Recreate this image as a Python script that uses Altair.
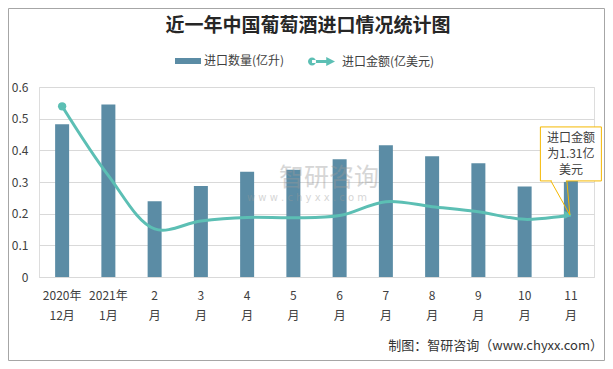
import altair as alt
import pandas as pd

# ---------------- data ----------------
months = ["2020年|12月", "2021年|1月", "2|月", "3|月", "4|月", "5|月",
          "6|月", "7|月", "8|月", "9|月", "10|月", "11|月"]
volume = [0.482, 0.545, 0.239, 0.287, 0.332, 0.339, 0.372, 0.416, 0.381, 0.359, 0.286, 0.31]
amount = [0.539, 0.32, 0.152, 0.177, 0.188, 0.187, 0.194, 0.238, 0.222, 0.206, 0.182, 0.196]
y_ticks = [0, 0.1, 0.2, 0.3, 0.4, 0.5, 0.6]
title_text = "近一年中国葡萄酒进口情况统计图"
vol_name = "进口数量(亿升)"
amt_name = "进口金额(亿美元)"
callout_lines = ["进口金额", "为1.31亿", "美元"]
source_text = "制图：智研咨询（www.chyxx.com）"
wm_name = "智研咨询"
wm_url = "w w w . c h y x x . c o m"

BAR = "#5b8ca5"
LINE = "#5cbfb4"
GOLD = "#f5b800"
TXT = "#404040"
GRID = "#d9d9d9"
FONT = "Noto Sans CJK SC"

df = pd.DataFrame({"month": months, "volume": volume, "amount": amount})
first = df.iloc[[0]]
last = df.iloc[[-1]]
one = pd.DataFrame({"k": [0]})

x_axis = alt.Axis(title=None, labelExpr="split(datum.label, '|')", labelAngle=0,
                  ticks=False, domainColor=GRID, labelFontSize=12, labelLineHeight=20,
                  labelPadding=13, labelColor=TXT, labelFont=FONT, grid=False)
xenc = alt.X("month:N", sort=months,
             scale=alt.Scale(domain=months, paddingInner=0, paddingOuter=0), axis=x_axis)
yscale = alt.Scale(domain=[0, 0.6], nice=False, zero=True)
y_axis = alt.Axis(title=None, values=y_ticks, format=".1~f", domain=False, ticks=False,
                  gridColor=GRID, labelFontSize=12, labelColor=TXT, labelFont=FONT,
                  labelPadding=11)

bar_sym = "M-1,-0.23H1V0.23H-1Z"
line_sym = ("M-1,0A0.3,0.3 0 1,0 -0.4,0A0.3,0.3 0 1,0 -1,0Z"
            "M-0.7,-0.11H0.45V0.11H-0.7Z"
            "M0.35,-0.33L1,0L0.35,0.33Z")

bars = alt.Chart(df).transform_calculate(s1=repr(vol_name)).mark_bar(width=14).encode(
    x=xenc,
    y=alt.Y("volume:Q", scale=yscale, axis=y_axis),
    color=alt.Color("s1:N", scale=alt.Scale(domain=[vol_name], range=[BAR]),
                    legend=alt.Legend(orient="none", legendX=136, legendY=-39, title=None,
                                      symbolType=bar_sym, symbolSize=676, symbolStrokeWidth=0,
                                      labelFontSize=12, labelFont=FONT, labelColor=TXT,
                                      labelOffset=3, padding=0)),
)

line = alt.Chart(df).transform_calculate(s2=repr(amt_name)).mark_line(
    interpolate="catmull-rom", strokeWidth=3).encode(
    x=xenc,
    y=alt.Y("amount:Q", scale=yscale, axis=y_axis),
    color=alt.Color("s2:N", scale=alt.Scale(domain=[amt_name], range=[LINE]),
                    legend=alt.Legend(orient="none", legendX=269, legendY=-39, title=None,
                                      symbolType=line_sym, symbolSize=729,
                                      symbolFillColor=LINE, symbolStrokeWidth=0,
                                      labelFontSize=12, labelFont=FONT, labelColor=TXT,
                                      labelOffset=7, padding=0)),
)

start_pt = alt.Chart(first).mark_point(shape="circle", filled=True, size=70, color=LINE, opacity=1).encode(
    x=xenc, y=alt.Y("amount:Q", scale=yscale, axis=y_axis))
end_pt = alt.Chart(last).mark_point(shape="triangle-right", filled=True, size=70, color=LINE,
                                    opacity=1, xOffset=-3).encode(
    x=xenc, y=alt.Y("amount:Q", scale=yscale, axis=y_axis))

# callout anchored to last amount point
box = alt.Chart(last).mark_bar(width=61, fill="white", stroke=GOLD, strokeWidth=1,
                               yOffset=-34, y2Offset=-88).encode(
    x=xenc, y=alt.Y("amount:Q", scale=yscale, axis=y_axis), y2="amount:Q")
ptr_left = alt.Chart(last).mark_rule(color=GOLD, strokeWidth=1, xOffset=-20, yOffset=-34,
                                     x2Offset=-1, y2Offset=0).encode(
    x=xenc, x2="month:N", y=alt.Y("amount:Q", scale=yscale, axis=y_axis), y2="amount:Q")
ptr_right = alt.Chart(last).mark_rule(color=GOLD, strokeWidth=1, xOffset=-4, yOffset=-34,
                                      x2Offset=-1, y2Offset=0).encode(
    x=xenc, x2="month:N", y=alt.Y("amount:Q", scale=yscale, axis=y_axis), y2="amount:Q")
ptr_cover = alt.Chart(last).mark_rule(color="white", strokeWidth=2, xOffset=-19, yOffset=-34,
                                      x2Offset=-5, y2Offset=-34).encode(
    x=xenc, x2="month:N", y=alt.Y("amount:Q", scale=yscale, axis=y_axis), y2="amount:Q")
call_txt = alt.Chart(last).mark_text(fontSize=12, font=FONT, color=TXT, lineHeight=16,
                                     baseline="middle", align="center", yOffset=-77).encode(
    x=xenc, y=alt.Y("amount:Q", scale=yscale, axis=y_axis), text=alt.value(callout_lines))

# decorations
border = alt.Chart(one).mark_rect(fill="transparent", stroke="#a6a6a6", strokeWidth=1).encode(
    x=alt.value(-30.5), x2=alt.value(565.5), y=alt.value(-78.5), y2=alt.value(273.5))
title = alt.Chart(one).mark_text(fontSize=19, font=FONT, fontWeight="bold", color="#262626",
                                 align="center", baseline="middle").encode(
    x=alt.value(269), y=alt.value(-61), text=alt.value(title_text))
wm1 = alt.Chart(one).mark_text(fontSize=25, font=FONT, color="#9a9a9a",
                               opacity=0.4, align="center", baseline="middle").encode(
    x=alt.value(290), y=alt.value(91), text=alt.value(wm_name))
wm2 = alt.Chart(one).mark_text(fontSize=10, font="DejaVu Sans", color="#9a9a9a",
                               opacity=0.4, align="center", baseline="middle").encode(
    x=alt.value(268), y=alt.value(111), text=alt.value(wm_url))
src = alt.Chart(one).mark_text(fontSize=13, font=FONT, color="#333333", align="right",
                               baseline="middle").encode(
    x=alt.value(564), y=alt.value(259), text=alt.value(source_text))

chart = alt.layer(
    border, title, bars, wm1, wm2, line, start_pt, end_pt, box, ptr_left, ptr_right, ptr_cover,
    call_txt, src
).resolve_scale(color="independent").properties(
    width=555, height=190,
    autosize=alt.AutoSizeParams(type="none"),
    padding={"left": 31, "top": 79, "right": 11, "bottom": 84},
).configure_view(stroke=None).configure(background="white")

chart.save("out.html", embed_options={"renderer": "svg", "actions": False})
